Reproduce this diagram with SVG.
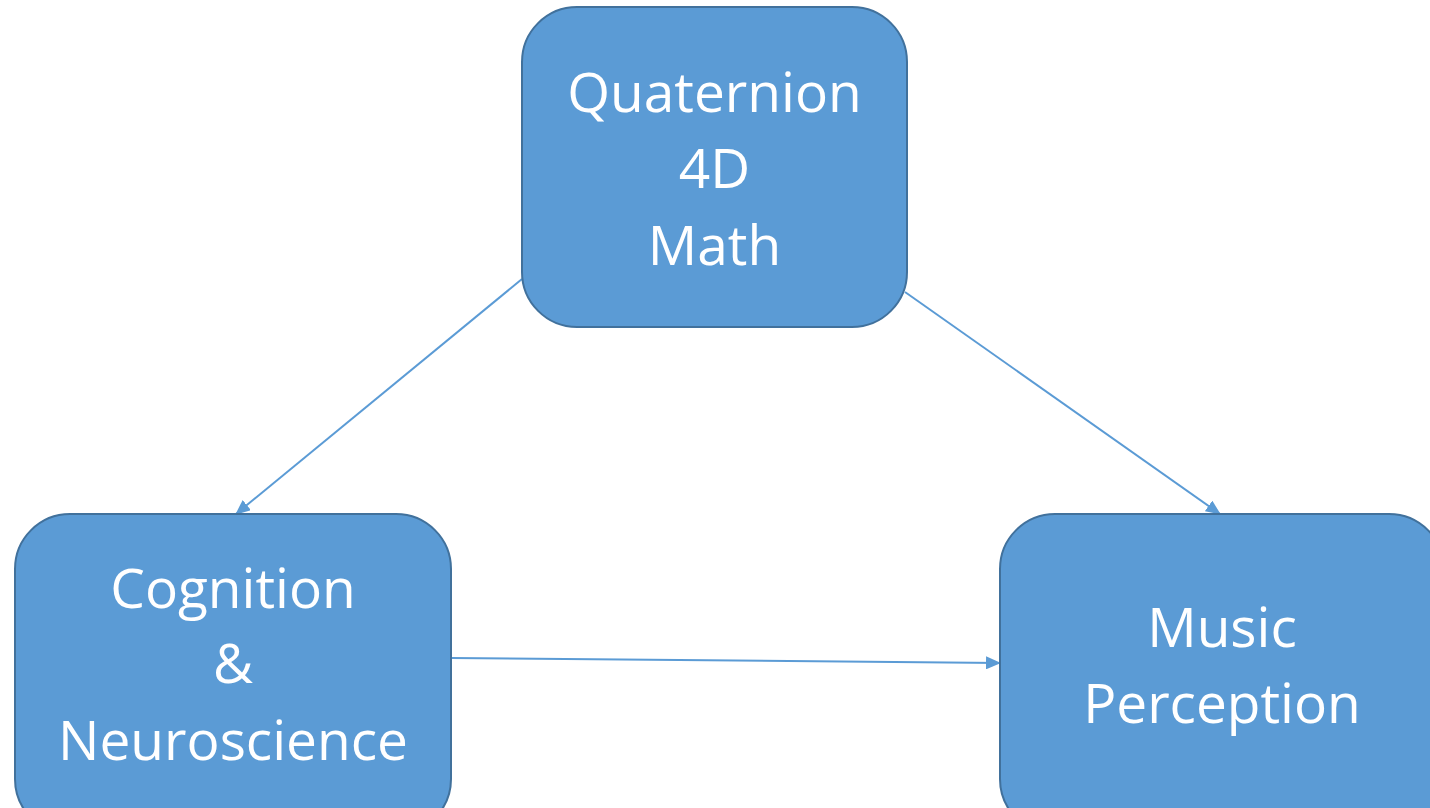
<svg xmlns="http://www.w3.org/2000/svg" width="1430" height="808" viewBox="0 0 1430 808">
<style>
.box{fill:#5B9BD5;stroke:#41719C;stroke-width:2}
.lbl{fill:#FFFFFF;font-family:"Open Sans","Noto Sans",sans-serif;font-size:55px;text-anchor:middle}
.edge{stroke:#5B9BD5;stroke-width:2;fill:none}
</style>
<defs>
<marker id="arr" markerUnits="userSpaceOnUse" markerWidth="15" markerHeight="13" refX="14" refY="6.5" orient="auto">
<path d="M0,0 L15,6.5 L0,13 Z" fill="#5B9BD5"/>
</marker>
</defs>
<g id="connectors">
<line class="edge" x1="522" y1="279" x2="236" y2="514" marker-end="url(#arr)"/>
<line class="edge" x1="905" y1="292" x2="1220" y2="514" marker-end="url(#arr)"/>
<line class="edge" x1="451" y1="658" x2="1000" y2="663" marker-end="url(#arr)"/>
</g>
<g id="node-quaternion">
<rect class="box" x="522" y="7" width="385" height="320" rx="55" ry="55"/>
<text class="lbl" x="714.5" y="112">Quaternion</text>
<text class="lbl" x="714.5" y="188">4D</text>
<text class="lbl" x="714.5" y="265">Math</text>
</g>
<g id="node-cognition">
<rect class="box" x="15" y="514" width="436" height="320" rx="55" ry="55"/>
<text class="lbl" x="233" y="608">Cognition</text>
<text class="lbl" x="233" y="683">&amp;</text>
<text class="lbl" x="233" y="760">Neuroscience</text>
</g>
<g id="node-music">
<rect class="box" x="1000" y="514" width="444" height="320" rx="55" ry="55"/>
<text class="lbl" x="1222" y="647">Music</text>
<text class="lbl" x="1222" y="723">Perception</text>
</g>
</svg>
